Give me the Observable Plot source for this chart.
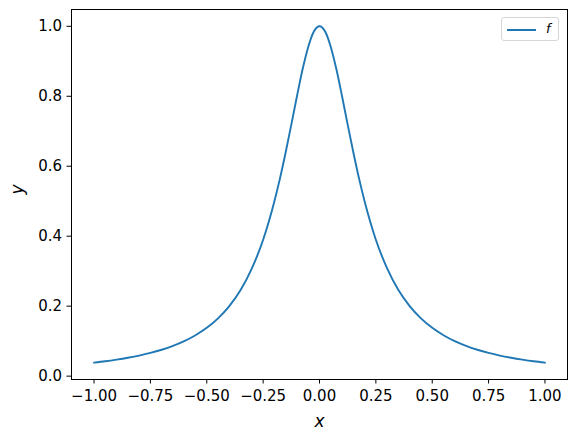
<!DOCTYPE html>
<html>
<head>
<meta charset="utf-8">
<script src="https://cdn.jsdelivr.net/npm/d3@7"></script>
<script src="https://cdn.jsdelivr.net/npm/@observablehq/plot@0.6"></script>
<style>
  html, body { margin: 0; padding: 0; background: #fff; }
  #wrap { position: relative; width: 576px; height: 441px; font-family: "DejaVu Sans", sans-serif; }
  #legend { position: absolute; left: 501px; top: 17px; width: 58px; height: 24px; border: 1px solid #d6d6d6; border-radius: 3px; background: rgba(255,255,255,0.8); box-sizing: border-box; }
  #legend .sw { position: absolute; left: 5px; top: 11px; width: 29px; height: 2px; background: #1f77b4; }
  #legend .lb { position: absolute; left: 44px; top: 3px; font-size: 13px; font-style: italic; color: #000; }
</style>
</head>
<body>
<div id="wrap">
  <div id="chart"></div>
  <div id="legend"><div class="sw"></div><div class="lb">f</div></div>
</div>
<script>
const xs = [-1, -0.95, -0.9, -0.85, -0.8, -0.75, -0.7, -0.65, -0.6, -0.55, -0.5, -0.45, -0.4, -0.35, -0.3, -0.25, -0.2, -0.175, -0.15, -0.125, -0.1, -0.075, -0.05, -0.025, 0,
            0.025, 0.05, 0.075, 0.1, 0.125, 0.15, 0.175, 0.2, 0.25, 0.3, 0.35, 0.4, 0.45, 0.5, 0.55, 0.6, 0.65, 0.7, 0.75, 0.8, 0.85, 0.9, 0.95, 1];
const ys = [0.0385, 0.0424, 0.0471, 0.0525, 0.0588, 0.0664, 0.0755, 0.0865, 0.100, 0.117, 0.138, 0.165, 0.200, 0.246, 0.308, 0.390, 0.500, 0.566, 0.640, 0.719, 0.800, 0.877, 0.941, 0.985, 1.000,
            0.985, 0.941, 0.877, 0.800, 0.719, 0.640, 0.566, 0.500, 0.390, 0.308, 0.246, 0.200, 0.165, 0.138, 0.117, 0.100, 0.0865, 0.0755, 0.0664, 0.0588, 0.0525, 0.0471, 0.0424, 0.0385];
const xTicks = [-1, -0.75, -0.5, -0.25, 0, 0.25, 0.5, 0.75, 1];
const yTicks = [0, 0.2, 0.4, 0.6, 0.8, 1.0];
const seriesName = "f";

const data = xs.map((x, i) => ({x, y: ys[i]}));

const chart = Plot.plot({
  width: 576,
  height: 441,
  marginTop: 9,
  marginBottom: 62,
  marginLeft: 71,
  marginRight: 9,
  style: {fontFamily: "DejaVu Sans, sans-serif", background: "#fff", color: "#000"},
  x: {domain: [-1.1, 1.1]},
  y: {domain: [-0.0096, 1.048]},
  marks: [
    Plot.line(data, {x: "x", y: "y", stroke: "#1f77b4", strokeWidth: 1.9, curve: "monotone-x"}),
    Plot.frame({stroke: "#000", strokeWidth: 1}),
    Plot.axisX({ticks: xTicks, tickFormat: d3.format(".2f"), tickSize: 4.5, tickPadding: 6, fontSize: 15, label: null, stroke: "#000"}),
    Plot.axisY({ticks: yTicks, tickFormat: d3.format(".1f"), tickSize: 4.5, tickPadding: 5, fontSize: 15, label: null, stroke: "#000"}),
    Plot.text(["x"], {text: d => d, frameAnchor: "bottom", dy: 47, fontSize: 17, fontStyle: "italic", fill: "#000"}),
    Plot.text(["y"], {text: d => d, frameAnchor: "left", dx: -54, rotate: -90, fontSize: 17, fontStyle: "italic", fill: "#000"})
  ]
});
document.getElementById("chart").appendChild(chart);
</script>
</body>
</html>
